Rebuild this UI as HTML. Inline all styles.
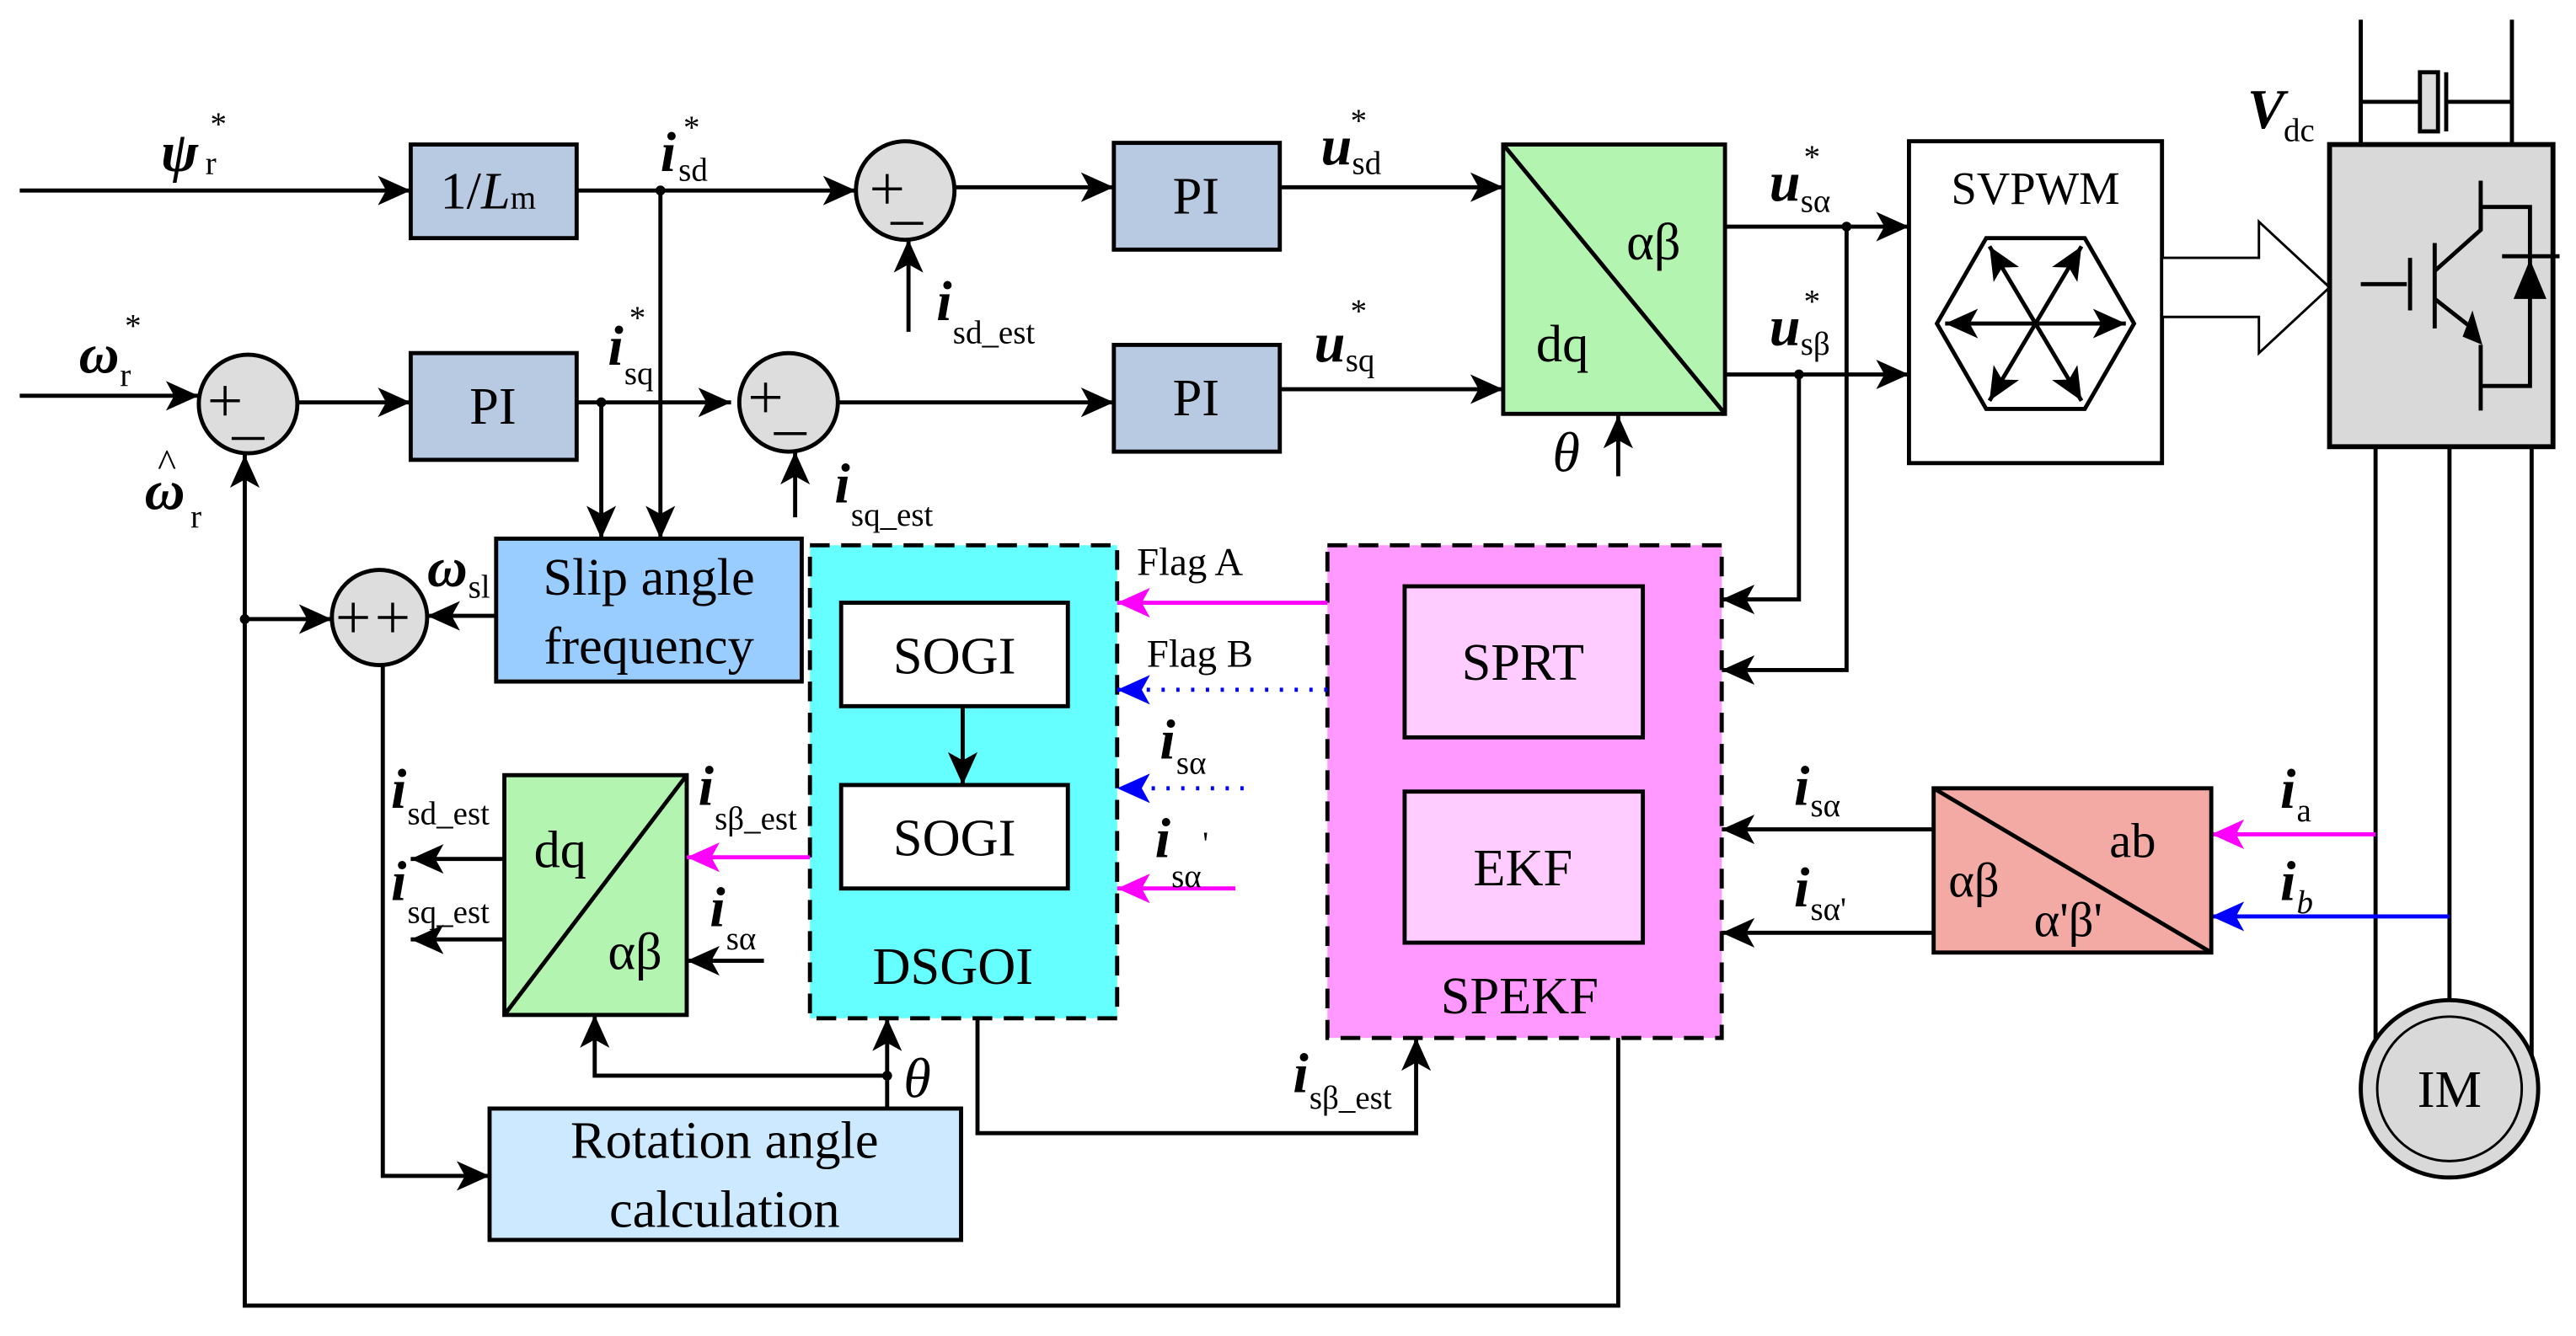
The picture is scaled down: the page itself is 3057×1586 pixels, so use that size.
<!DOCTYPE html>
<html><head><meta charset="utf-8"><style>
html,body{margin:0;padding:0;background:#fff;}
svg{display:block;}
text{font-family:"Liberation Serif",serif;fill:#000;}
.m{font-weight:bold;font-style:italic;font-size:34px;}
.t{font-style:italic;font-size:34px;}
.s{font-size:20px;}
.b{font-size:32px;}
.l{stroke:#000;stroke-width:2.5;fill:none;}
.p{stroke:#000;stroke-width:1.8;fill:none;}
</style></head><body>
<svg width="3057" height="1586" viewBox="0 0 1568 813.5" xmlns="http://www.w3.org/2000/svg">
<defs>
<marker id="ak" viewBox="0 0 20 20" refX="20" refY="10" markerWidth="20" markerHeight="20" markerUnits="userSpaceOnUse" orient="auto"><path d="M0,1 L20,10 L0,19 L5,10 z" fill="#000"/></marker>
<marker id="am" viewBox="0 0 20 20" refX="20" refY="10" markerWidth="20" markerHeight="20" markerUnits="userSpaceOnUse" orient="auto"><path d="M0,1 L20,10 L0,19 L5,10 z" fill="#f0f"/></marker>
<marker id="ab" viewBox="0 0 20 20" refX="20" refY="10" markerWidth="20" markerHeight="20" markerUnits="userSpaceOnUse" orient="auto"><path d="M0,1 L20,10 L0,19 L5,10 z" fill="#00f"/></marker>
</defs>

<!-- Row 1 -->
<text x="98" y="104" class="m">ψ</text><text x="125" y="106" class="s">r</text><text x="128" y="82" class="s">*</text>
<line x1="12" y1="116" x2="250" y2="116" class="l" marker-end="url(#ak)"/>
<rect x="250" y="88" width="101" height="57" fill="#b8c9e2" stroke="#000" stroke-width="2.5"/>
<text x="268" y="127" class="b">1/<tspan font-style="italic">L</tspan><tspan font-size="20">m</tspan></text>
<line x1="351" y1="116" x2="521" y2="116" class="l" marker-end="url(#ak)"/>
<circle cx="402" cy="116" r="3"/>
<text x="402" y="104" class="m">i</text><text x="413" y="110" class="s">sd</text><text x="416" y="84" class="s">*</text>
<circle cx="551" cy="116" r="30" fill="#ddd" stroke="#000" stroke-width="2.5"/>
<path d="M531,115 h18 M540,106 v18 M542,136 h20" class="p"/>
<line x1="581" y1="114" x2="678" y2="114" class="l" marker-end="url(#ak)"/>
<line x1="553" y1="202" x2="553" y2="146" class="l" marker-end="url(#ak)"/>
<text x="570" y="195" class="m">i</text><text x="580" y="209" class="s">sd_est</text>
<rect x="678" y="87" width="101" height="65" fill="#b8c9e2" stroke="#000" stroke-width="2.5"/>
<text x="728" y="130" class="b" text-anchor="middle">PI</text>
<line x1="779" y1="114" x2="915" y2="114" class="l" marker-end="url(#ak)"/>
<text x="804" y="100" class="m">u</text><text x="823" y="106" class="s">sd</text><text x="822" y="80" class="s">*</text>

<!-- dq/ab top -->
<rect x="915" y="88" width="135" height="164" fill="#b3f5b0" stroke="#000" stroke-width="2.5"/>
<line x1="915" y1="88" x2="1050" y2="252" class="l"/>
<text x="990" y="158" class="b">αβ</text><text x="935" y="220" class="b">dq</text>
<text x="945" y="287" class="t">θ</text>
<line x1="985" y1="290" x2="985" y2="253" class="l" marker-end="url(#ak)"/>
<line x1="1050" y1="138" x2="1162" y2="138" class="l" marker-end="url(#ak)"/>
<line x1="1050" y1="228" x2="1162" y2="228" class="l" marker-end="url(#ak)"/>
<circle cx="1124" cy="138" r="3"/><circle cx="1095" cy="228" r="3"/>
<text x="1077" y="122" class="m">u</text><text x="1096" y="129" class="s">sα</text><text x="1098" y="102" class="s">*</text>
<text x="1077" y="210" class="m">u</text><text x="1096" y="216" class="s">sβ</text><text x="1098" y="190" class="s">*</text>
<polyline points="1095,228 1095,365 1048,365" class="l" marker-end="url(#ak)"/>
<polyline points="1124,138 1124,408 1048,408" class="l" marker-end="url(#ak)"/>

<!-- SVPWM -->
<rect x="1162" y="86" width="154" height="196" fill="#fff" stroke="#000" stroke-width="2.5"/>
<text x="1239" y="124" font-size="28" text-anchor="middle">SVPWM</text>
<polygon points="1179,197 1209,145 1269,145 1299,197 1269,249 1209,249" fill="none" stroke="#000" stroke-width="2.5"/>
<g class="l">
<line x1="1239" y1="197" x2="1294" y2="197" marker-end="url(#ak)"/>
<line x1="1239" y1="197" x2="1184" y2="197" marker-end="url(#ak)"/>
<line x1="1239" y1="197" x2="1267" y2="150" marker-end="url(#ak)"/>
<line x1="1239" y1="197" x2="1211" y2="150" marker-end="url(#ak)"/>
<line x1="1239" y1="197" x2="1267" y2="244" marker-end="url(#ak)"/>
<line x1="1239" y1="197" x2="1211" y2="244" marker-end="url(#ak)"/>
</g>
<polygon points="1316,157 1375,157 1375,135 1418,175 1375,215 1375,193 1316,193" fill="#fff" stroke="#000" stroke-width="1.5"/>

<!-- Inverter -->
<text x="1368" y="78" class="m">V</text><text x="1390" y="86" class="s">dc</text>
<line x1="1437" y1="12" x2="1437" y2="88" class="l"/><line x1="1529" y1="12" x2="1529" y2="88" class="l"/>
<line x1="1437" y1="62" x2="1475" y2="62" class="l"/><line x1="1489" y1="62" x2="1529" y2="62" class="l"/>
<rect x="1473" y="44" width="11" height="36" fill="#ddd" stroke="#000" stroke-width="2.5"/>
<line x1="1489" y1="44" x2="1489" y2="80" class="l"/>
<rect x="1418" y="88" width="136" height="184" fill="#d9d9d9" stroke="#000" stroke-width="3"/>
<g class="l">
<line x1="1437" y1="173" x2="1465" y2="173"/><line x1="1467" y1="157" x2="1467" y2="189"/>
<line x1="1482" y1="148" x2="1482" y2="200"/>
<polyline points="1482,165 1510,140 1510,110"/>
<polyline points="1510,140 1510,126 1540,126 1540,235 1510,235"/>
<line x1="1482" y1="182" x2="1505" y2="200"/>
<line x1="1510" y1="210" x2="1510" y2="250"/>
<line x1="1523" y1="156" x2="1558" y2="156"/>
</g>
<polygon points="1499,205 1511,210 1505,189" fill="#000"/>
<polygon points="1530,182 1550,182 1540,158" fill="#000"/>
<line x1="1446" y1="272" x2="1446" y2="663" class="l"/>
<line x1="1491" y1="272" x2="1491" y2="610" class="l"/>
<line x1="1541" y1="272" x2="1541" y2="663" class="l"/>
<circle cx="1491" cy="663" r="54" fill="#d9d9d9" stroke="#000" stroke-width="2.5"/>
<circle cx="1491" cy="663" r="44" fill="#d9d9d9" stroke="#000" stroke-width="1.5"/>
<text x="1491" y="674" class="b" text-anchor="middle">IM</text>

<!-- ab box -->
<line x1="1446" y1="508" x2="1346" y2="508" stroke="#f0f" stroke-width="2.5" marker-end="url(#am)"/>
<line x1="1491" y1="558" x2="1346" y2="558" stroke="#00f" stroke-width="2.5" marker-end="url(#ab)"/>
<text x="1388" y="492" class="m">i</text><text x="1398" y="500" class="s">a</text>
<text x="1388" y="548" class="m">i</text><text x="1398" y="556" class="s" font-style="italic">b</text>
<rect x="1177" y="480" width="169" height="100" fill="#f4aaa4" stroke="#000" stroke-width="2.5"/>
<line x1="1177" y1="480" x2="1346" y2="580" class="l"/>
<text x="1284" y="522" font-size="30">ab</text>
<text x="1186" y="546" font-size="30">αβ</text>
<text x="1238" y="570" font-size="30">α'β'</text>
<line x1="1177" y1="505" x2="1048" y2="505" class="l" marker-end="url(#ak)"/>
<line x1="1177" y1="568" x2="1048" y2="568" class="l" marker-end="url(#ak)"/>
<text x="1092" y="490" class="m">i</text><text x="1102" y="497" class="s">sα</text>
<text x="1092" y="552" class="m">i</text><text x="1102" y="560" class="s">sα'</text>

<!-- SPEKF -->
<rect x="808" y="332" width="240" height="300" fill="#ff99ff" stroke="#000" stroke-width="2.5" stroke-dasharray="12,7"/>
<rect x="855" y="357" width="145" height="92" fill="#ffccff" stroke="#000" stroke-width="2.5"/>
<text x="927" y="414" class="b" text-anchor="middle">SPRT</text>
<rect x="855" y="482" width="145" height="92" fill="#ffccff" stroke="#000" stroke-width="2.5"/>
<text x="927" y="539" class="b" text-anchor="middle">EKF</text>
<text x="925" y="617" class="b" text-anchor="middle">SPEKF</text>
<polyline points="985,632 985,795 149,795 149,277" class="l" marker-end="url(#ak)"/>

<!-- DSGOI -->
<rect x="493" y="332" width="187" height="288" fill="#66ffff" stroke="#000" stroke-width="2.5" stroke-dasharray="12,7"/>
<rect x="512" y="367" width="138" height="63" fill="#fff" stroke="#000" stroke-width="2.5"/>
<text x="581" y="410" class="b" text-anchor="middle">SOGI</text>
<rect x="512" y="478" width="138" height="63" fill="#fff" stroke="#000" stroke-width="2.5"/>
<text x="581" y="521" class="b" text-anchor="middle">SOGI</text>
<line x1="586" y1="430" x2="586" y2="478" class="l" marker-end="url(#ak)"/>
<text x="580" y="599" class="b" text-anchor="middle">DSGOI</text>
<line x1="808" y1="367" x2="680" y2="367" stroke="#f0f" stroke-width="2.5" marker-end="url(#am)"/>
<text x="692" y="350" font-size="24">Flag A</text>
<line x1="808" y1="420" x2="680" y2="420" stroke="#00f" stroke-width="2.5" stroke-dasharray="2,7" marker-end="url(#ab)"/>
<text x="698" y="406" font-size="24">Flag B</text>
<line x1="757" y1="480" x2="680" y2="480" stroke="#00f" stroke-width="2.5" stroke-dasharray="2,7" marker-end="url(#ab)"/>
<text x="706" y="462" class="m">i</text><text x="716" y="471" class="s">sα</text>
<line x1="752" y1="541" x2="680" y2="541" stroke="#f0f" stroke-width="2.5" marker-end="url(#am)"/>
<text x="703" y="522" class="m">i</text><text x="713" y="540" class="s">sα</text><text x="732" y="520" class="s">'</text>
<polyline points="595,620 595,690 862,690 862,632" class="l" marker-end="url(#ak)"/>
<text x="787" y="665" class="m">i</text><text x="797" y="675" class="s">sβ_est</text>

<!-- Row 2 -->
<text x="48" y="227" class="m">ω</text><text x="73" y="235" class="s">r</text><text x="76" y="205" class="s">*</text>
<line x1="12" y1="241" x2="121" y2="241" class="l" marker-end="url(#ak)"/>
<circle cx="151" cy="246" r="30" fill="#ddd" stroke="#000" stroke-width="2.5"/>
<path d="M128,244 h18 M137,235 v18 M141,267 h20" class="p"/>
<line x1="181" y1="245" x2="250" y2="245" class="l" marker-end="url(#ak)"/>
<text x="88" y="310" class="m">ω</text><text x="96" y="290" font-size="24">^</text><text x="116" y="321" class="s">r</text>
<rect x="250" y="215" width="101" height="65" fill="#b8c9e2" stroke="#000" stroke-width="2.5"/>
<text x="300" y="258" class="b" text-anchor="middle">PI</text>
<line x1="351" y1="245" x2="445" y2="245" class="l" marker-end="url(#ak)"/>
<circle cx="366" cy="245" r="3"/>
<text x="370" y="222" class="m">i</text><text x="380" y="234" class="s">sq</text><text x="383" y="200" class="s">*</text>
<circle cx="480" cy="245" r="30" fill="#ddd" stroke="#000" stroke-width="2.5"/>
<path d="M457,242 h18 M466,233 v18 M471,264 h20" class="p"/>
<line x1="510" y1="245" x2="678" y2="245" class="l" marker-end="url(#ak)"/>
<line x1="484" y1="315" x2="484" y2="275" class="l" marker-end="url(#ak)"/>
<text x="508" y="306" class="m">i</text><text x="518" y="320" class="s">sq_est</text>
<rect x="678" y="210" width="101" height="65" fill="#b8c9e2" stroke="#000" stroke-width="2.5"/>
<text x="728" y="253" class="b" text-anchor="middle">PI</text>
<line x1="779" y1="237" x2="915" y2="237" class="l" marker-end="url(#ak)"/>
<text x="800" y="220" class="m">u</text><text x="819" y="226" class="s">sq</text><text x="822" y="196" class="s">*</text>

<!-- slip -->
<line x1="366" y1="245" x2="366" y2="328" class="l" marker-end="url(#ak)"/>
<line x1="402" y1="116" x2="402" y2="328" class="l" marker-end="url(#ak)"/>
<rect x="302" y="328" width="186" height="87" fill="#99ccff" stroke="#000" stroke-width="2.5"/>
<text x="395" y="362" class="b" text-anchor="middle">Slip angle</text>
<text x="395" y="404" class="b" text-anchor="middle">frequency</text>
<line x1="302" y1="375" x2="260" y2="375" class="l" marker-end="url(#ak)"/>
<text x="260" y="357" class="m">ω</text><text x="285" y="364" class="s">sl</text>
<circle cx="231" cy="376" r="29" fill="#ddd" stroke="#000" stroke-width="2.5"/>
<path d="M206,376 h18 M215,367 v18 M230,376 h18 M239,367 v18" class="p"/>
<circle cx="149" cy="377" r="3"/>
<line x1="149" y1="377" x2="202" y2="377" class="l" marker-end="url(#ak)"/>
<polyline points="233,405 233,716 298,716" class="l" marker-end="url(#ak)"/>

<!-- small dq box -->
<rect x="307" y="472" width="111" height="146" fill="#b3f5b0" stroke="#000" stroke-width="2.5"/>
<line x1="307" y1="618" x2="418" y2="472" class="l"/>
<text x="325" y="528" class="b">dq</text><text x="370" y="590" class="b">αβ</text>
<line x1="493" y1="522" x2="418" y2="522" stroke="#f0f" stroke-width="2.5" marker-end="url(#am)"/>
<text x="425" y="490" class="m">i</text><text x="435" y="505" class="s">sβ_est</text>
<line x1="465" y1="585" x2="418" y2="585" class="l" marker-end="url(#ak)"/>
<text x="432" y="564" class="m">i</text><text x="442" y="578" class="s">sα</text>
<line x1="307" y1="523" x2="250" y2="523" class="l" marker-end="url(#ak)"/>
<line x1="307" y1="572" x2="250" y2="572" class="l" marker-end="url(#ak)"/>
<text x="238" y="492" class="m">i</text><text x="248" y="502" class="s">sd_est</text>
<text x="238" y="548" class="m">i</text><text x="248" y="562" class="s">sq_est</text>

<!-- rotation -->
<polyline points="540,675 540,655 362,655 362,618" class="l" marker-end="url(#ak)"/>
<line x1="540" y1="656" x2="540" y2="620" class="l" marker-end="url(#ak)"/>
<circle cx="540" cy="655" r="3"/>
<text x="550" y="668" class="t">θ</text>
<rect x="298" y="675" width="287" height="80" fill="#cce9ff" stroke="#000" stroke-width="2.5"/>
<text x="441" y="705" class="b" text-anchor="middle">Rotation angle</text>
<text x="441" y="747" class="b" text-anchor="middle">calculation</text>
</svg>
</body></html>
